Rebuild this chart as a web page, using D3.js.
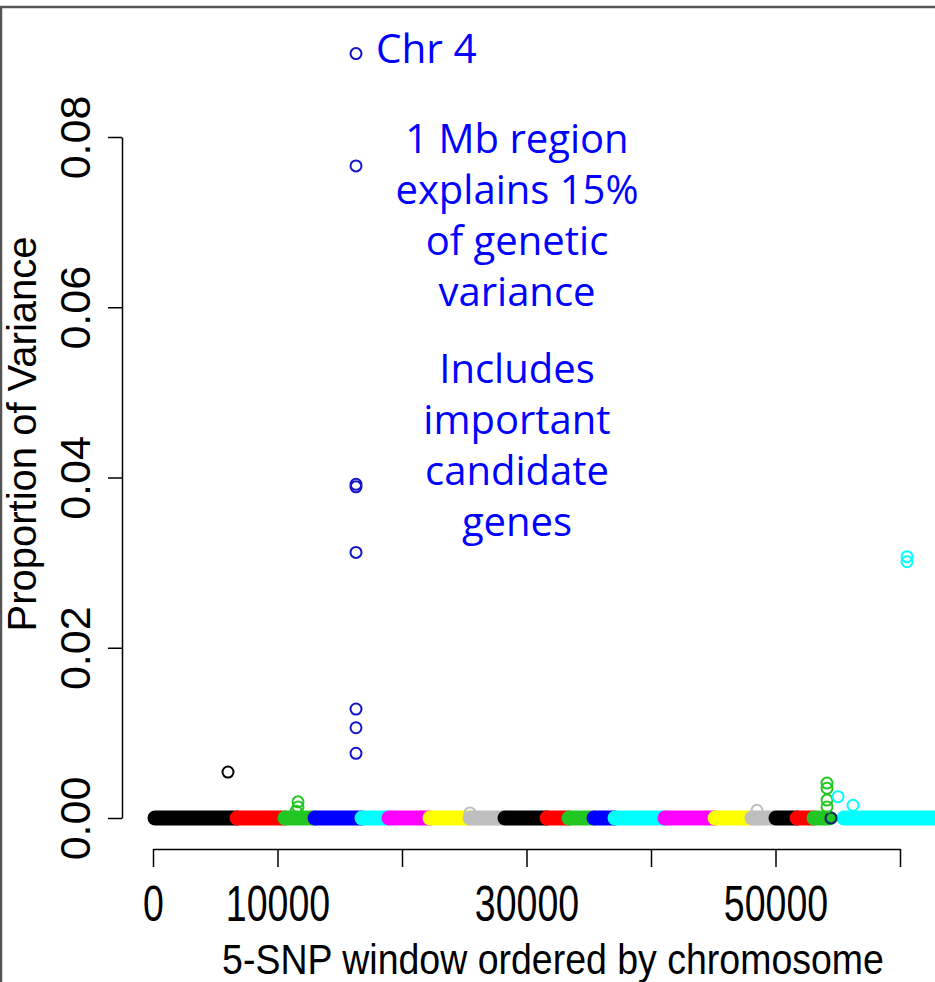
<!DOCTYPE html>
<html>
<head>
<meta charset="utf-8">
<script src="https://cdn.jsdelivr.net/npm/d3@7"></script>
<style>
  html, body { margin: 0; padding: 0; background: #fff; }
  svg { display: block; }
</style>
</head>
<body>
<svg id="chart" width="935" height="982"></svg>
<script>
// Chromosome layout along the genome-wide window index (5-SNP windows)
const chromNames  = ["1","2","3","4","5","6","7","8","9","10","11","12","13","14","15","16","17","18","19","20","21"];
const chromStarts = [160, 6747, 10602, 13012, 16787, 18956, 22249, 25462, 28273, 31647, 33414, 35422, 37108, 41124, 45141, 48112, 50040, 51727, 53092, 54458, 55500];
const chromEnds   = [6746, 10601, 13011, 16786, 18955, 22248, 25461, 28272, 31646, 33413, 35421, 37107, 41123, 45140, 48111, 50039, 51726, 53091, 54300, 54458, 63500];

// R default palette, cycled by chromosome
const palette = ["#000000", "#ff0000", "#22c722", "#0000ff", "#00ffff", "#ff00ff", "#ffff00", "#bebebe"];

// Windows that explain a visible share of the variance
const peakWindow = [6024, 11647, 11647, 11500, 16305, 16305, 16305, 16305, 16305, 16305, 16305, 16305, 25462, 48514, 54137, 54137, 54137, 54137, 55020, 56225, 60562, 60562];
const peakVar    = [0.0054, 0.0019, 0.0013, 0.0008, 0.0898, 0.0766, 0.0392, 0.0389, 0.0312, 0.0128, 0.0106, 0.0076, 0.0006, 0.0009, 0.0041, 0.0035, 0.0021, 0.0013, 0.0025, 0.0015, 0.0307, 0.0301];
const peakChrom  = [1, 3, 3, 3, 4, 4, 4, 4, 4, 4, 4, 4, 8, 16, 19, 19, 19, 19, 21, 21, 21, 21];

// Axis ticks
const xTicks = [0, 10000, 20000, 30000, 40000, 50000, 60000];
const xTickLabels = ["0", "10000", "", "30000", "", "50000", ""];
const yTicks = [0, 0.02, 0.04, 0.06, 0.08];
const yTickLabels = ["0.00", "0.02", "0.04", "0.06", "0.08"];

const annotTop = "Chr 4";
const annotBlock1 = ["1 Mb region", "explains 15%", "of genetic", "variance"];
const annotBlock2 = ["Includes", "important", "candidate", "genes"];

const svg = d3.select("#chart");
svg.append("rect").attr("width", 935).attr("height", 982).attr("fill", "#fff");

// outer frame
svg.append("rect")
  .attr("x", 1).attr("y", 7).attr("width", 1200).attr("height", 1200)
  .attr("fill", "none").attr("stroke", "#555").attr("stroke-width", 2.5);

const x = d3.scaleLinear().domain([0, 60000]).range([153, 900]);
const y = d3.scaleLinear().domain([0, 0.08]).range([818, 137]);

const colorOf = c => palette[(c - 1) % palette.length];

const plot = svg.append("g");

// dense runs of near-zero windows, one run per chromosome
const chromData = chromNames.map((n, i) => ({ chrom: i + 1, start: chromStarts[i], end: chromEnds[i] }));
plot.selectAll("line.run")
  .data(chromData.filter(d => d.end > d.start))
  .join("line")
  .attr("class", "run")
  .attr("x1", d => x(d.start)).attr("x2", d => x(d.end))
  .attr("y1", y(0)).attr("y2", y(0))
  .attr("stroke", d => colorOf(d.chrom))
  .attr("stroke-width", 15)
  .attr("stroke-linecap", "round");

// single-window chromosomes
plot.selectAll("circle.single")
  .data(chromData.filter(d => d.end === d.start))
  .join("circle")
  .attr("class", "single")
  .attr("cx", d => x(d.start)).attr("cy", y(0)).attr("r", 5.5)
  .attr("fill", "none")
  .attr("stroke", "#102a6a")
  .attr("stroke-width", 2.2);

// highlighted windows
const peaks = peakWindow.map((w, i) => ({ w, v: peakVar[i], chrom: peakChrom[i] }));
plot.selectAll("circle.peak")
  .data(peaks)
  .join("circle")
  .attr("class", "peak")
  .attr("cx", d => x(d.w)).attr("cy", d => y(d.v)).attr("r", 5.5)
  .attr("fill", "none")
  .attr("stroke", d => d.chrom === 4 ? "#1414c8" : colorOf(d.chrom))
  .attr("stroke-width", 2);

// x axis
const xAxis = d3.axisBottom(x)
  .tickValues(xTicks)
  .tickFormat((d, i) => xTickLabels[i])
  .tickSize(18)
  .tickSizeOuter(0);
const gx = svg.append("g").attr("transform", "translate(0,849)").call(xAxis);
gx.select(".domain").attr("stroke", "#000").attr("stroke-width", 1.5);
gx.selectAll(".tick line").attr("stroke", "#000").attr("stroke-width", 1.5);
gx.selectAll(".tick text")
  .attr("y", 0).attr("dy", null)
  .attr("transform", "translate(0,72) scale(1,1.32)")
  .attr("font-family", "'Liberation Sans', Arial, sans-serif")
  .attr("font-size", 37.5)
  .attr("fill", "#000");

// y axis
const yAxis = d3.axisLeft(y)
  .tickValues(yTicks)
  .tickFormat((d, i) => yTickLabels[i])
  .tickSize(14)
  .tickSizeOuter(0);
const gy = svg.append("g").attr("transform", "translate(122,0)").call(yAxis);
gy.select(".domain").attr("stroke", "#000").attr("stroke-width", 1.5);
gy.selectAll(".tick line").attr("stroke", "#000").attr("stroke-width", 1.5);
gy.selectAll(".tick text")
  .attr("x", null).attr("dy", null)
  .attr("transform", "translate(-32,0) rotate(-90)")
  .attr("text-anchor", "middle")
  .attr("font-family", "'Liberation Sans', Arial, sans-serif")
  .attr("font-size", 43)
  .attr("fill", "#000");

// axis titles
svg.append("text")
  .attr("transform", "translate(553,974) scale(1,1.12)")
  .attr("text-anchor", "middle")
  .attr("font-family", "'Liberation Sans', Arial, sans-serif")
  .attr("font-size", 37.5)
  .text("5-SNP window ordered by chromosome");

svg.append("text")
  .attr("transform", "translate(36,434) rotate(-90)")
  .attr("text-anchor", "middle")
  .attr("font-family", "'Liberation Sans', Arial, sans-serif")
  .attr("font-size", 40)
  .text("Proportion of Variance");

// annotations
const annotFont = "'Open Sans', 'Noto Sans', sans-serif";
svg.append("text")
  .attr("x", 376).attr("y", 63)
  .attr("font-family", annotFont)
  .attr("font-size", 40.5)
  .attr("fill", "#0000ff")
  .text(annotTop);

svg.append("g").selectAll("text")
  .data(annotBlock1.map((t, i) => ({ t, by: 153 + i * 51 })).concat(
        annotBlock2.map((t, i) => ({ t, by: 383 + i * 51 }))))
  .join("text")
  .attr("x", 517).attr("y", d => d.by)
  .attr("text-anchor", "middle")
  .attr("font-family", annotFont)
  .attr("font-size", 40)
  .attr("fill", "#0000ff")
  .text(d => d.t);
</script>
</body>
</html>
